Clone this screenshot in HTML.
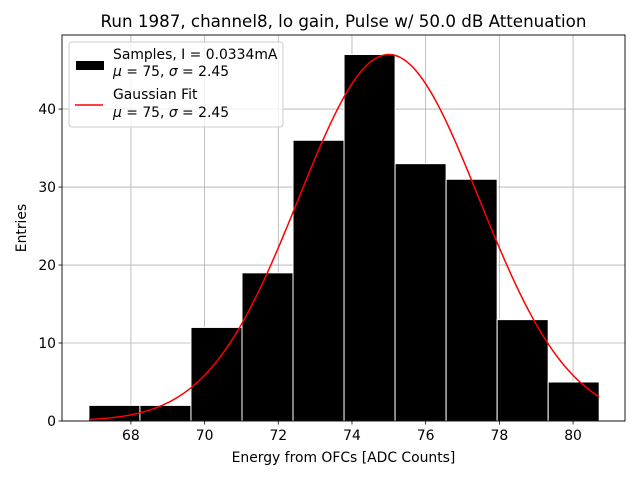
<!DOCTYPE html>
<html><head><meta charset="utf-8"><style>
body{margin:0;background:#fff;}
svg{display:block;font-family:"DejaVu Sans","Liberation Sans",sans-serif;}
</style></head><body>
<svg id="chart" width="640" height="480">
<rect width="640" height="480" fill="#fff"/>
<text x="343.5" y="27" font-size="16.7" text-anchor="middle">Run 1987, channel8, lo gain, Pulse w/ 50.0 dB Attenuation</text>
<g id="grid"></g>
<g id="bars"></g>
<path id="fit" fill="none" stroke="#ff0000" stroke-width="1.5"/>
<rect x="62" y="35" width="563" height="386" fill="none" stroke="#000" stroke-width="0.9"/>
<g id="ticks" font-size="13.9"></g>
<text x="343.5" y="462" font-size="13.9" text-anchor="middle">Energy from OFCs [ADC Counts]</text>
<text x="26" y="228" font-size="13.9" text-anchor="middle" transform="rotate(-90 26 228)">Entries</text>
<g>
<rect x="69" y="42" width="214" height="85" rx="3" fill="#fff" fill-opacity="0.8" stroke="#ccc"/>
<rect x="76" y="61" width="28" height="9" fill="#000"/>
<text x="113" y="59" font-size="13.9">Samples, I = 0.0334mA</text>
<text x="113" y="76" font-size="13.9"><tspan font-style="italic">μ</tspan> = 75, <tspan font-style="italic">σ</tspan> = 2.45</text>
<line x1="75" y1="105" x2="103" y2="105" stroke="#ff0000" stroke-width="1.5"/>
<text x="113" y="99" font-size="13.9">Gaussian Fit</text>
<text x="113" y="117" font-size="13.9"><tspan font-style="italic">μ</tspan> = 75, <tspan font-style="italic">σ</tspan> = 2.45</text>
</g>
</svg>
<script>
const binStart = 66.86;
const binWidth = 1.385;
const counts = [2, 2, 12, 19, 36, 47, 33, 31, 13, 5];
const fitMean = [75];
const fitSigma = [2.45];
const fitAmp = [47];
const xTicks = [68, 70, 72, 74, 76, 78, 80];
const yTicks = [0, 10, 20, 30, 40];

const NS = "http://www.w3.org/2000/svg";
const X0 = 62, X1 = 625, Y0 = 421, Y1 = 35;
const xmin = 66.13, xmax = 81.41, ymin = 0, ymax = 49.5;
const xs = v => X0 + (v - xmin) / (xmax - xmin) * (X1 - X0);
const ys = v => Y0 - (v - ymin) / (ymax - ymin) * (Y0 - Y1);
function mk(tag, attrs, parent) { const e = document.createElementNS(NS, tag); for (const k in attrs) e.setAttribute(k, attrs[k]); parent.appendChild(e); return e; }

const grid = document.getElementById('grid'), ticks = document.getElementById('ticks'), bars = document.getElementById('bars');
xTicks.forEach(t => {
  const x = xs(t);
  const g = mk('line', {x1: x, x2: x, y1: Y1, y2: Y0, stroke: '#b0b0b0', 'stroke-width': 0.8}, grid);
  
  
  mk('line', {x1: x, x2: x, y1: Y0, y2: Y0 + 3.5, stroke: '#000', 'stroke-width': 0.8}, ticks);
  const tx = mk('text', {x: x, y: Y0 + 19, 'text-anchor': 'middle'}, ticks);
  tx.textContent = t;
  
  
});
yTicks.forEach(t => {
  const y = ys(t);
  const g = mk('line', {x1: X0, x2: X1, y1: y, y2: y, stroke: '#b0b0b0', 'stroke-width': 0.8}, grid);
  
  
  mk('line', {x1: X0 - 3.5, x2: X0, y1: y, y2: y, stroke: '#000', 'stroke-width': 0.8}, ticks);
  const tx = mk('text', {x: X0 - 6, y: y + 5, 'text-anchor': 'end'}, ticks);
  tx.textContent = t;
  
  
});
counts.forEach((c, i) => {
  const a = xs(binStart + i * binWidth), b = xs(binStart + (i + 1) * binWidth);
  const r = mk('rect', {x: a, y: ys(c), width: b - a, height: ys(0) - ys(c), fill: '#000', stroke: '#fff', 'stroke-width': 1}, bars);
  
  
});
let d = '';
const lo = binStart, hi = binStart + counts.length * binWidth;
for (let i = 0; i <= 200; i++) {
  const v = lo + (hi - lo) * i / 200;
  const f = fitAmp[0] * Math.exp(-0.5 * Math.pow((v - fitMean[0]) / fitSigma[0], 2));
  d += (i ? 'L' : 'M') + xs(v).toFixed(2) + ',' + ys(f).toFixed(2);
}
document.getElementById('fit').setAttribute('d', d);
</script>
</body></html>
